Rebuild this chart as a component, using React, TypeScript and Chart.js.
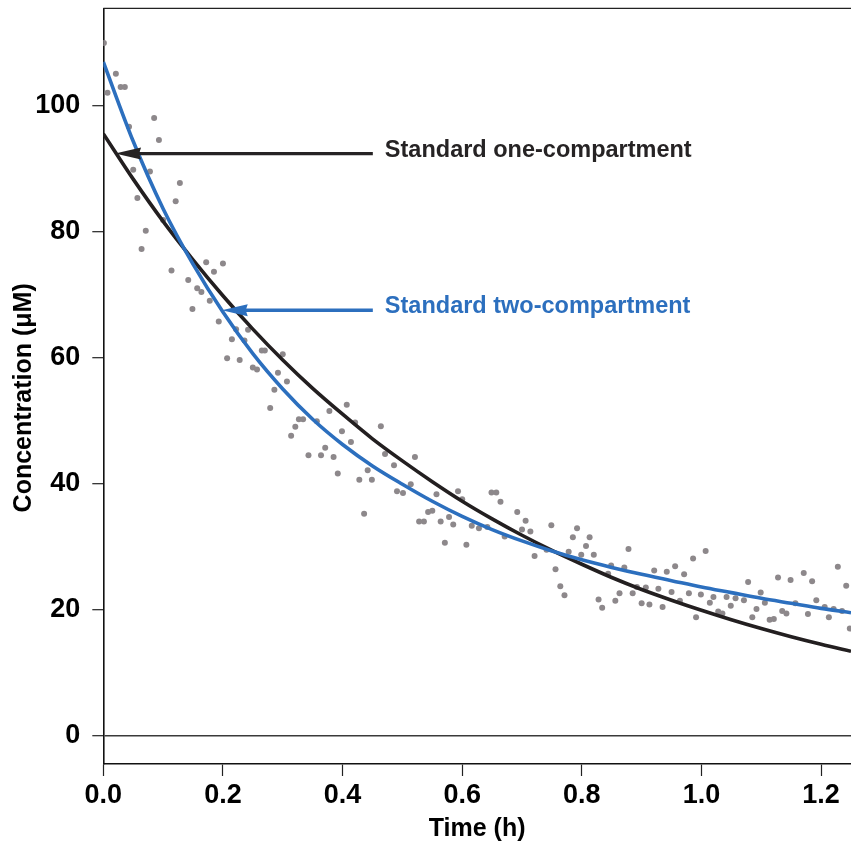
import { useEffect, useRef } from 'react';
import { Chart, registerables } from 'chart.js';

Chart.register(...registerables);

const FONT = '"Liberation Sans", Arial, Helvetica, sans-serif';

// Model curves, sampled every 0.05 h
const timeGrid = [0, 0.05, 0.1, 0.15, 0.2, 0.25, 0.3, 0.35, 0.4, 0.45, 0.5, 0.55, 0.6, 0.65, 0.7, 0.75, 0.8, 0.85, 0.9, 0.95, 1.0, 1.05, 1.1, 1.15, 1.2, 1.25];
const oneCompartment = [95.5, 88.3, 81.6, 75.5, 69.8, 64.5, 59.6, 55.1, 51.0, 47.1, 43.6, 40.3, 37.2, 34.4, 31.8, 29.4, 27.2, 25.1, 23.2, 21.5, 19.9, 18.4, 17.0, 15.7, 14.5, 13.4];
const twoCompartment = [106.9, 94.3, 83.6, 74.8, 67.2, 60.6, 55.0, 50.2, 46.2, 42.8, 39.9, 37.2, 34.8, 32.7, 30.9, 29.3, 27.9, 26.7, 25.6, 24.6, 23.6, 22.7, 21.8, 21.0, 20.2, 19.5];

// Observed concentrations
const obsTime = [
  0.001, 0.007, 0.021, 0.029, 0.036, 0.043, 0.085, 0.093, 0.050, 0.078, 0.128, 0.057, 0.121, 0.100, 0.071, 0.064,
  0.172, 0.200, 0.185, 0.114, 0.142, 0.157, 0.164, 0.178, 0.149, 0.193, 0.222, 0.215, 0.207, 0.228, 0.236, 0.242,
  0.250, 0.257, 0.265, 0.270, 0.300, 0.292, 0.307, 0.286, 0.279, 0.407, 0.378, 0.421, 0.464, 0.327, 0.334, 0.357,
  0.321, 0.399, 0.314, 0.414, 0.371, 0.343, 0.364, 0.385, 0.471, 0.486, 0.442, 0.392, 0.428, 0.449, 0.491, 0.436,
  0.521, 0.514, 0.501, 0.557, 0.593, 0.600, 0.649, 0.657, 0.664, 0.543, 0.550, 0.692, 0.706, 0.528, 0.536, 0.564,
  0.578, 0.585, 0.616, 0.628, 0.642, 0.700, 0.714, 0.749, 0.671, 0.571, 0.607, 0.721, 0.741, 0.792, 0.785, 0.813,
  0.807, 0.778, 0.799, 0.820, 0.878, 0.986, 0.756, 0.849, 0.871, 0.844, 0.921, 0.942, 0.956, 0.971, 0.764, 0.771,
  0.892, 0.907, 0.928, 0.950, 0.863, 0.885, 0.979, 0.828, 0.856, 0.964, 0.900, 0.913, 0.935, 0.834, 0.991, 1.007,
  1.078, 1.128, 1.149, 1.171, 1.185, 1.228, 1.242, 0.999, 1.020, 1.042, 1.057, 1.071, 1.099, 1.106, 1.014, 1.049,
  1.157, 1.192, 1.206, 1.221, 1.235, 1.092, 1.028, 1.035, 1.135, 1.142, 1.178, 1.213, 1.085, 1.114, 1.121, 1.248,
];
const obsConc = [
  109.9, 102.0, 105.0, 102.9, 102.9, 96.6, 98.0, 94.5, 89.8, 89.5, 87.7, 85.3, 84.8, 81.8, 80.1, 77.2,
  75.1, 74.9, 73.6, 73.8, 72.3, 71.0, 70.4, 69.0, 67.7, 65.7, 64.5, 62.9, 59.9, 59.6, 62.7, 64.4,
  58.4, 58.1, 61.1, 61.1, 60.5, 57.6, 56.2, 54.9, 52.0, 52.5, 51.5, 49.7, 49.1, 50.2, 50.2, 49.9,
  49.0, 48.3, 47.6, 46.6, 45.7, 44.5, 44.5, 44.2, 44.7, 42.9, 42.1, 41.6, 40.6, 40.6, 38.8, 35.2,
  44.2, 39.9, 38.5, 38.3, 38.8, 37.5, 38.6, 38.6, 37.1, 35.5, 35.7, 35.5, 34.1, 34.0, 34.0, 34.0,
  34.7, 33.5, 33.3, 32.9, 33.1, 32.7, 32.4, 33.4, 31.6, 30.6, 30.3, 28.5, 29.5, 32.9, 31.5, 31.5,
  30.1, 29.2, 28.7, 28.7, 29.6, 28.1, 26.4, 27.0, 26.7, 25.7, 26.2, 26.0, 26.9, 25.6, 23.7, 22.3,
  23.6, 23.5, 23.3, 22.8, 22.6, 22.6, 22.6, 21.6, 21.4, 21.4, 21.0, 20.8, 20.4, 20.3, 18.8, 29.3,
  24.4, 25.1, 24.7, 25.8, 24.5, 26.8, 23.8, 22.4, 22.0, 22.0, 21.8, 21.5, 22.7, 21.1, 21.1, 20.6,
  21.0, 21.5, 20.4, 20.1, 19.8, 20.1, 19.7, 19.4, 19.8, 19.4, 19.3, 18.8, 18.8, 18.4, 18.5, 17.0,
];

const xTicks = [0, 0.2, 0.4, 0.6, 0.8, 1.0, 1.2];
const yTicks = [0, 20, 40, 60, 80, 100];
const yTitle = 'Concentration (μM)';
const xTitle = 'Time (h)';

// Curve labels with arrows (data units)
const labelTexts = ['Standard one-compartment', 'Standard two-compartment'];
const labelColors = ['#262324', '#2c6fbe'];
const arrowTipX = [0.0197, 0.198];
const arrowTailX = [0.4506, 0.4506];
const arrowY = [92.35, 67.5];
const labelX = [0.4707, 0.4707];
const labelY = [92.8, 68.1];

const BLACK = '#231f20';
const BLUE = '#2c6fbe';
const DOT = '#8d888b';

const overlayPlugin = {
  id: 'overlay',
  afterDatasetsDraw(chart: any) {
    const { ctx, scales, chartArea } = chart;
    const xs = scales.x;
    const ys = scales.y;
    ctx.save();
    // top frame line
    ctx.strokeStyle = '#222';
    ctx.lineWidth = 1.2;
    ctx.beginPath();
    ctx.moveTo(chartArea.left, chartArea.top);
    ctx.lineTo(chartArea.right, chartArea.top);
    ctx.stroke();

    labelTexts.forEach((text, i) => {
      const tipX = xs.getPixelForValue(arrowTipX[i]);
      const tailX = xs.getPixelForValue(arrowTailX[i]);
      const yPix = ys.getPixelForValue(arrowY[i]);
      ctx.strokeStyle = labelColors[i];
      ctx.fillStyle = labelColors[i];
      ctx.lineWidth = 3.4;
      ctx.beginPath();
      ctx.moveTo(tipX + 18, yPix);
      ctx.lineTo(tailX, yPix);
      ctx.stroke();
      ctx.beginPath();
      ctx.moveTo(tipX, yPix);
      ctx.lineTo(tipX + 26, yPix - 6);
      ctx.lineTo(tipX + 24, yPix);
      ctx.lineTo(tipX + 26, yPix + 6);
      ctx.closePath();
      ctx.fill();
      ctx.font = `bold 23.5px ${FONT}`;
      ctx.textBaseline = 'middle';
      ctx.textAlign = 'left';
      ctx.fillText(text, xs.getPixelForValue(labelX[i]), ys.getPixelForValue(labelY[i]));
    });

    // y-axis title (slightly below the plot's centre, as in the original)
    ctx.fillStyle = '#000';
    ctx.font = `bold 25px ${FONT}`;
    ctx.textAlign = 'center';
    ctx.textBaseline = 'middle';
    ctx.translate(24.5, ys.getPixelForValue(53.6));
    ctx.rotate(-Math.PI / 2);
    ctx.fillText(yTitle, 0, 0);
    ctx.restore();
  },
};

export default function App() {
  const ref = useRef<HTMLCanvasElement>(null);

  useEffect(() => {
    const chart = new Chart(ref.current as HTMLCanvasElement, {
      type: 'scatter',
      data: {
        datasets: [
          {
            label: 'Standard two-compartment',
            type: 'line',
            data: timeGrid.map((t, i) => ({ x: t, y: twoCompartment[i] })),
            borderColor: BLUE,
            borderWidth: 3.6,
            pointRadius: 0,
            fill: false,
            cubicInterpolationMode: 'monotone',
            order: 1,
          } as any,
          {
            label: 'Standard one-compartment',
            type: 'line',
            data: timeGrid.map((t, i) => ({ x: t, y: oneCompartment[i] })),
            borderColor: BLACK,
            borderWidth: 3.6,
            pointRadius: 0,
            fill: false,
            cubicInterpolationMode: 'monotone',
            order: 2,
          } as any,
          {
            label: 'Observed',
            type: 'scatter',
            data: obsTime.map((t, i) => ({ x: t, y: obsConc[i] })),
            backgroundColor: DOT,
            borderWidth: 0,
            pointRadius: 3,
            order: 3,
          } as any,
        ],
      },
      options: {
        responsive: false,
        animation: false,
        devicePixelRatio: 1,
        layout: { autoPadding: false, padding: { top: 8.3, right: 0, left: 0, bottom: 0 } },
        plugins: {
          legend: { display: false },
          tooltip: { enabled: false },
        },
        scales: {
          x: {
            type: 'linear',
            min: 0,
            max: 1.25,
            afterBuildTicks: (s: any) => {
              s.ticks = xTicks.map((v) => ({ value: v }));
            },
            afterFit: (s: any) => {
              s.height = 84;
              s.paddingLeft = 0;
              s.paddingRight = 0;
            },
            ticks: {
              autoSkip: false,
              maxRotation: 0,
              padding: 3,
              color: '#000',
              font: { family: FONT, size: 27, weight: 'bold' },
              callback: (v: any) => Number(v).toFixed(1),
            },
            grid: {
              drawOnChartArea: false,
              drawTicks: true,
              tickLength: 12,
              tickColor: '#222',
              tickWidth: 1.2,
            },
            border: { display: true, color: '#111', width: 1.6 },
            title: {
              display: true,
              text: xTitle,
              color: '#000',
              font: { family: FONT, size: 25, weight: 'bold' },
              padding: { top: 0, bottom: 4 },
            },
          },
          y: {
            type: 'linear',
            min: -4.49,
            max: 115.4,
            afterBuildTicks: (s: any) => {
              s.ticks = yTicks.map((v) => ({ value: v }));
            },
            afterFit: (s: any) => {
              s.width = 103.3;
              s.paddingTop = 0;
              s.paddingBottom = 0;
            },
            ticks: {
              autoSkip: false,
              padding: 12,
              color: '#000',
              font: { family: FONT, size: 27, weight: 'bold' },
              callback: (v: any) => String(v),
            },
            grid: {
              drawOnChartArea: true,
              drawTicks: true,
              tickLength: 11,
              tickColor: '#222',
              tickWidth: 1.2,
              lineWidth: 1.4,
              color: (c: any) => (c.tick && c.tick.value === 0 ? '#3a3a3a' : 'rgba(0,0,0,0)'),
            },
            border: { display: true, color: '#111', width: 1.6 },
            title: { display: false },
          },
        },
      },
      plugins: [overlayPlugin],
    });
    return () => chart.destroy();
  }, []);

  return (
    <div style={{ position: 'absolute', left: 0, top: 0, width: 851, height: 848, background: '#fff' }}>
      <canvas ref={ref} width={851} height={848} style={{ display: 'block', width: 851, height: 848 }} />
    </div>
  );
}
